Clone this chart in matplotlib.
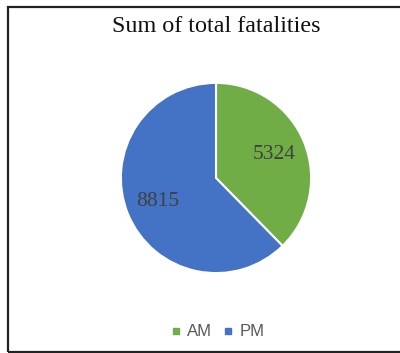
import matplotlib.pyplot as plt
from matplotlib.lines import Line2D
from matplotlib.patches import Rectangle

# fatalities by time of day
periods = ["AM", "PM"]
fatalities = [5324, 8815]
colors = ["#70AD47", "#4472C4"]

fig = plt.figure(figsize=(4.0, 3.53), dpi=100)
W, H = 400, 353

# chart frame
fig.patches.append(Rectangle((7.5 / W, 1.5 / H), 1.2, (H - 8.5) / H, transform=fig.transFigure,
                             fill=False, edgecolor="#222222", linewidth=1.6))

fig.text(216 / W, 1 - 26 / H, "Sum of total fatalities", ha="center", va="center",
         family="Liberation Serif", fontsize=17.4, color="#111111")

cx, cy, r = 216, 178, 97
ax = fig.add_axes([(cx - r) / W, (H - cy - r) / H, 2 * r / W, 2 * r / H])
total = sum(fatalities)
wedges, texts, autotexts = ax.pie(
    fatalities, colors=colors, startangle=90, counterclock=False, radius=1,
    autopct=lambda p: "{:.0f}".format(p * total / 100), pctdistance=0.66,
    wedgeprops=dict(edgecolor="white", linewidth=1.5),
    textprops=dict(family="Liberation Serif", fontsize=15.5, color="#404040"))
ax.set_xlim(-1.02, 1.02)
ax.set_ylim(-1.02, 1.02)
ax.axis("off")

handles = [Line2D([], [], marker="s", linestyle="none", markersize=4.5,
                  markerfacecolor=c, markeredgecolor=c) for c in colors]
fig.legend(handles, periods, loc="center", bbox_to_anchor=(216 / W, 1 - 332 / H), ncol=2,
           frameon=False, handletextpad=0.2, columnspacing=0.45, handlelength=1.0,
           prop=dict(family="Liberation Sans", size=12), labelcolor="#595959")

fig.savefig("out.png", dpi=100, facecolor="white")
